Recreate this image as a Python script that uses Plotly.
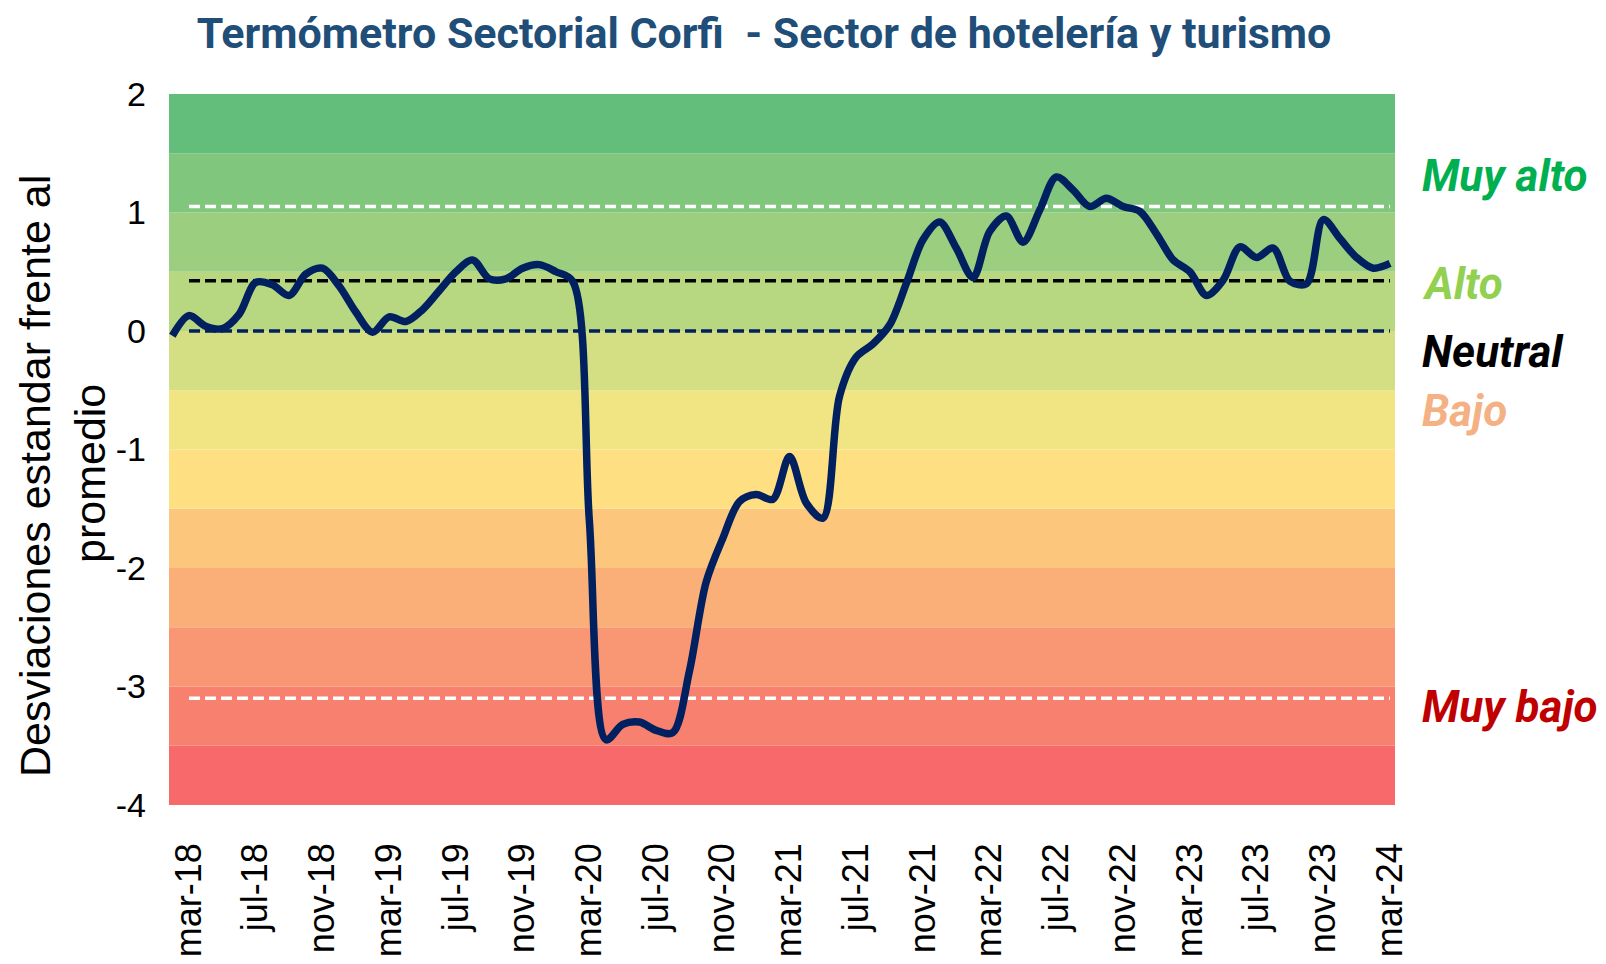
import plotly.graph_objects as go

# ---------------- data ----------------
months = [
    "feb-18", "mar-18", "abr-18", "may-18", "jun-18", "jul-18", "ago-18", "sep-18", "oct-18", "nov-18", "dic-18",
    "ene-19", "feb-19", "mar-19", "abr-19", "may-19", "jun-19", "jul-19", "ago-19", "sep-19", "oct-19", "nov-19", "dic-19",
    "ene-20", "feb-20", "mar-20", "abr-20", "may-20", "jun-20", "jul-20", "ago-20", "sep-20", "oct-20", "nov-20", "dic-20",
    "ene-21", "feb-21", "mar-21", "abr-21", "may-21", "jun-21", "jul-21", "ago-21", "sep-21", "oct-21", "nov-21", "dic-21",
    "ene-22", "feb-22", "mar-22", "abr-22", "may-22", "jun-22", "jul-22", "ago-22", "sep-22", "oct-22", "nov-22", "dic-22",
    "ene-23", "feb-23", "mar-23", "abr-23", "may-23", "jun-23", "jul-23", "ago-23", "sep-23", "oct-23", "nov-23", "dic-23",
    "ene-24", "feb-24", "mar-24",
]

termometro = [
    -0.04, 0.13, 0.04, 0.02, 0.14, 0.41, 0.39, 0.30, 0.48, 0.53, 0.38,
    0.16, -0.01, 0.12, 0.08, 0.18, 0.34, 0.50, 0.60, 0.44, 0.44, 0.53, 0.56,
    0.50, 0.42, -1.60, -3.45, -3.32, -3.30, -3.37, -3.39, -2.87, -2.12, -1.75, -1.44,
    -1.38, -1.42, -1.06, -1.45, -1.58, -0.55, -0.22, -0.11, 0.05, 0.40, 0.77, 0.92,
    0.70, 0.45, 0.84, 0.97, 0.75, 1.02, 1.30, 1.19, 1.05, 1.12, 1.05, 1.01,
    0.82, 0.60, 0.50, 0.30, 0.43, 0.71, 0.62, 0.70, 0.42, 0.40, 0.94, 0.78,
    0.62, 0.53, 0.57,
]

tick_labels = ["mar-18", "jul-18", "nov-18", "mar-19", "jul-19", "nov-19", "mar-20", "jul-20",
               "nov-20", "mar-21", "jul-21", "nov-21", "mar-22", "jul-22", "nov-22", "mar-23",
               "jul-23", "nov-23", "mar-24"]

y_tick_vals = [-4, -3, -2, -1, 0, 1, 2]
y_tick_text = ["-4", "-3", "-2", "-1", "0", "1", "2"]

# reference levels (constant series)
muy_alto_level = 1.05
alto_level = 0.425
neutral_level = 0.0
muy_bajo_level = -3.10

# background bands (bottom -> top)
band_lower = [-4.0, -3.5, -3.0, -2.5, -2.0, -1.5, -1.0, -0.5, 0.0, 0.5, 1.0, 1.5]
band_upper = [-3.5, -3.0, -2.5, -2.0, -1.5, -1.0, -0.5, 0.0, 0.5, 1.0, 1.5, 2.0]
band_colors = ["#F8696B", "#F8806F", "#F99774", "#FAAE78", "#FCC67D", "#FEDF82",
               "#F1E583", "#D4DE82", "#B8D781", "#9BCF7F", "#80C67D", "#63BE7B"]

level_labels = ["Muy alto", "Alto", "Neutral", "Bajo", "Muy bajo"]
level_label_y = [1.31, 0.40, -0.18, -0.675, -3.17]
level_label_colors = ["#00B050", "#92D050", "#000000", "#F4B183", "#C00000"]

# ---------------- figure ----------------
OFF = 8  # page body margin
W, H = 1598, 956
L, T = 169 - OFF, 94 - OFF
plot_w, plot_h = 1226, 711
R = W - L - plot_w
B = H - T - plot_h

fig = go.Figure()

for lo, hi, c in zip(band_lower, band_upper, band_colors):
    fig.add_shape(type="rect", xref="paper", yref="y", x0=0, x1=1, y0=lo, y1=hi,
                  fillcolor=c, line=dict(width=0), layer="below")

n = len(months)
ref_lines = [
    (muy_alto_level, "#FFFFFF"),
    (alto_level, "#000000"),
    (neutral_level, "#002060"),
    (muy_bajo_level, "#FFFFFF"),
]
for lvl, col in ref_lines:
    fig.add_trace(go.Scatter(x=months[1:], y=[lvl] * (n - 1), mode="lines",
                             line=dict(color=col, width=3.5, dash="11px,5px"),
                             hoverinfo="skip", showlegend=False))

fig.add_trace(go.Scatter(x=months, y=termometro, mode="lines",
                         line=dict(color="#002060", width=7.5, shape="spline", smoothing=0.9),
                         showlegend=False))

# right-side level labels
for txt, yv, col in zip(level_labels, level_label_y, level_label_colors):
    fig.add_annotation(text=txt, xref="paper", yref="y", x=(1420 - 169) / plot_w, y=yv,
                       xanchor="left", yanchor="middle", showarrow=False,
                       font=dict(family="Roboto", size=44, color=col, weight="bold", style="italic"))

# y-axis title (two lines)
fig.add_annotation(text="Desviaciones estandar frente al", xref="paper", yref="paper",
                   x=(35 - 169) / plot_w, y=1 - (476 - 94) / plot_h, textangle=-90,
                   xanchor="center", yanchor="middle", showarrow=False,
                   font=dict(family="Liberation Sans", size=43, color="#000000"))
fig.add_annotation(text="promedio", xref="paper", yref="paper",
                   x=(90 - 169) / plot_w, y=1 - (474 - 94) / plot_h, textangle=-90,
                   xanchor="center", yanchor="middle", showarrow=False,
                   font=dict(family="Liberation Sans", size=43, color="#000000"))

fig.update_layout(
    width=W, height=H,
    margin=dict(l=L, r=R, t=T, b=B, autoexpand=False),
    paper_bgcolor="white", plot_bgcolor="white",
    title=dict(text="Termómetro Sectorial Corfi \u00a0- Sector de hotelería y turismo",
               x=(764 - OFF) / W, xanchor="center", y=1 - (33 - OFF) / H, yanchor="middle",
               font=dict(family="Roboto", size=43, color="#1F4E79", weight="bold")),
    xaxis=dict(type="category", categoryorder="array", categoryarray=months,
               range=[-0.2, n - 1 + 0.3], tickmode="array", tickvals=tick_labels,
               ticktext=tick_labels, tickangle=-90, showgrid=False, zeroline=False,
               showline=False, ticks="", ticklabelstandoff=30,
               tickfont=dict(family="Liberation Sans", size=36, color="#000000")),
    yaxis=dict(range=[-4, 2], tickmode="array", tickvals=y_tick_vals, ticktext=y_tick_text,
               showgrid=False, zeroline=False, showline=False, ticks="", ticklabelstandoff=22,
               tickfont=dict(family="Liberation Sans", size=34, color="#000000")),
    showlegend=False,
)

fig.write_html("out.html")
